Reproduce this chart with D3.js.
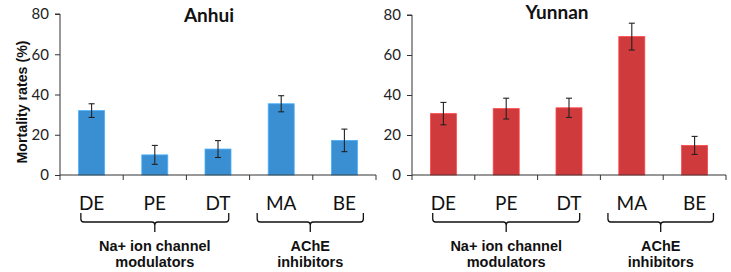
<!DOCTYPE html>
<html>
<head>
<meta charset="utf-8">
<script src="https://cdn.jsdelivr.net/npm/d3@7"></script>
<style>
  body { margin: 0; background: #fff; }
  .tick text { font-family: Lato, "Open Sans", sans-serif; }
</style>
</head>
<body>
<div id="chart"></div>
<script>
// data
const categories = ["DE", "PE", "DT", "MA", "BE"];
const regions = ["Anhui", "Yunnan"];
const anhuiValues = [32, 10, 12.9, 35.4, 17.2];
const anhuiErrors = [3.4, 4.7, 4.2, 4.0, 5.6];
const yunnanValues = [30.7, 33.2, 33.6, 69.2, 14.8];
const yunnanErrors = [5.6, 5.2, 4.8, 6.7, 4.5];
const yTicks = [0, 20, 40, 60, 80];
const groups = [
  {lines: ["Na+ ion channel", "modulators"], first: "DE", last: "DT"},
  {lines: ["AChE", "inhibitors"], first: "MA", last: "BE"}
];

const width = 731, height = 272;

const panels = [
  {title: regions[0], values: anhuiValues, errors: anhuiErrors, color: "#3a8fd3", x0: 60, x1: 376, y0: 175, y1: 14, tx: 209, ty: 22},
  {title: regions[1], values: yunnanValues, errors: yunnanErrors, color: "#cf3a3c", x0: 412, x1: 726, y0: 175, y1: 15, tx: 557, ty: 19}
];
// brace extents in band fractions (start of first band, end of last band)
const braceFrac = [[0.33, 0.67], [0.12, 0.8]];

const svg = d3.select("#chart").append("svg")
    .attr("width", width)
    .attr("height", height);

svg.append("text")
    .attr("transform", "translate(27,102) rotate(-90)")
    .attr("text-anchor", "middle")
    .attr("font-family", "Liberation Sans, Arial, sans-serif")
    .attr("font-weight", "bold")
    .attr("font-size", 14.2)
    .attr("fill", "#111")
    .text("Mortality rates (%)");

panels.forEach(p => {
  const x = d3.scaleBand().domain(categories).range([p.x0, p.x1]).paddingInner(0).paddingOuter(0);
  const y = d3.scaleLinear().domain([0, 80]).range([p.y0, p.y1]);
  const g = svg.append("g");
  const bw = x.bandwidth();
  const barW = 26;

  // y axis
  const yAxis = g.append("g")
      .attr("transform", `translate(${p.x0},0)`)
      .call(d3.axisLeft(y).tickValues(yTicks).tickSize(5).tickPadding(6));
  yAxis.selectAll("text").attr("font-size", 15).attr("fill", "#222");
  yAxis.selectAll("line, path").attr("stroke", "#333");
  yAxis.select(".domain").attr("d", `M-5,${p.y1}H0V${p.y0}`);

  // bars
  g.selectAll("rect.bar")
    .data(p.values)
    .join("rect")
      .attr("class", "bar")
      .attr("x", (d, i) => x(categories[i]) + (bw - barW) / 2)
      .attr("width", barW)
      .attr("y", d => y(d))
      .attr("height", d => y(0) - y(d))
      .attr("fill", p.color)
      .attr("stroke", d3.color(p.color).brighter(0.6))
      .attr("stroke-width", 0.8);

  // error bars
  const eg = g.selectAll("g.err")
    .data(p.values.map((v, i) => ({v, e: p.errors[i], c: categories[i]})))
    .join("g")
      .attr("class", "err")
      .attr("stroke", "#222")
      .attr("stroke-width", 1.1);
  eg.append("line")
      .attr("x1", d => x(d.c) + bw / 2)
      .attr("x2", d => x(d.c) + bw / 2)
      .attr("y1", d => y(d.v + d.e))
      .attr("y2", d => y(d.v - d.e));
  eg.selectAll("line.cap")
    .data(d => [d.v + d.e, d.v - d.e].map(t => ({t, c: d.c})))
    .join("line")
      .attr("class", "cap")
      .attr("x1", d => x(d.c) + bw / 2 - 3)
      .attr("x2", d => x(d.c) + bw / 2 + 3)
      .attr("y1", d => y(d.t))
      .attr("y2", d => y(d.t));

  // x axis
  g.append("line")
      .attr("x1", p.x0).attr("x2", p.x1)
      .attr("y1", y(0)).attr("y2", y(0))
      .attr("stroke", "#333");
  g.selectAll("line.xtick")
    .data(categories)
    .join("line")
      .attr("class", "xtick")
      .attr("x1", d => x(d)).attr("x2", d => x(d))
      .attr("y1", y(0)).attr("y2", y(0) + 5)
      .attr("stroke", "#333");
  g.append("line")
      .attr("x1", p.x1).attr("x2", p.x1)
      .attr("y1", y(0)).attr("y2", y(0) + 5)
      .attr("stroke", "#333");

  // category labels
  g.selectAll("text.cat")
    .data(categories)
    .join("text")
      .attr("class", "cat")
      .attr("x", d => x(d) + bw / 2)
      .attr("y", 210)
      .attr("text-anchor", "middle")
      .attr("font-family", "Lato, 'Open Sans', sans-serif")
      .attr("font-size", 19)
      .attr("fill", "#111")
      .text(d => d);

  // title
  g.append("text")
      .attr("x", p.tx)
      .attr("y", p.ty)
      .attr("text-anchor", "middle")
      .attr("font-family", "Lato, 'Open Sans', sans-serif")
      .attr("font-weight", "bold")
      .attr("font-size", 19)
      .attr("fill", "#111")
      .text(p.title);

  // braces and group labels
  groups.forEach((grp, gi) => {
    const bx0 = x(grp.first) + bw * braceFrac[gi][0];
    const bx1 = x(grp.last) + bw * braceFrac[gi][1];
    const mid = (bx0 + bx1) / 2;
    const top = 213, bot = 222, tip = 232, r = 3;
    const path = d3.path();
    path.moveTo(bx0, top);
    path.lineTo(bx0, bot - r);
    path.quadraticCurveTo(bx0, bot, bx0 + r, bot);
    path.lineTo(mid - r, bot);
    path.quadraticCurveTo(mid, bot, mid, bot + r);
    path.lineTo(mid, tip);
    path.moveTo(mid, bot + r);
    path.quadraticCurveTo(mid, bot, mid + r, bot);
    path.lineTo(bx1 - r, bot);
    path.quadraticCurveTo(bx1, bot, bx1, bot - r);
    path.lineTo(bx1, top);
    g.append("path")
        .attr("d", path.toString())
        .attr("fill", "none")
        .attr("stroke", "#111")
        .attr("stroke-width", 1.3);
    g.append("text")
        .attr("x", mid)
        .attr("text-anchor", "middle")
        .attr("font-family", "Liberation Sans, Arial, sans-serif")
        .attr("font-weight", "bold")
        .attr("font-size", 14.5)
        .attr("fill", "#111")
        .selectAll("tspan")
        .data(grp.lines)
        .join("tspan")
          .attr("x", mid)
          .attr("y", (d, i) => 251 + i * 16)
          .text(d => d);
  });
});
</script>
</body>
</html>
